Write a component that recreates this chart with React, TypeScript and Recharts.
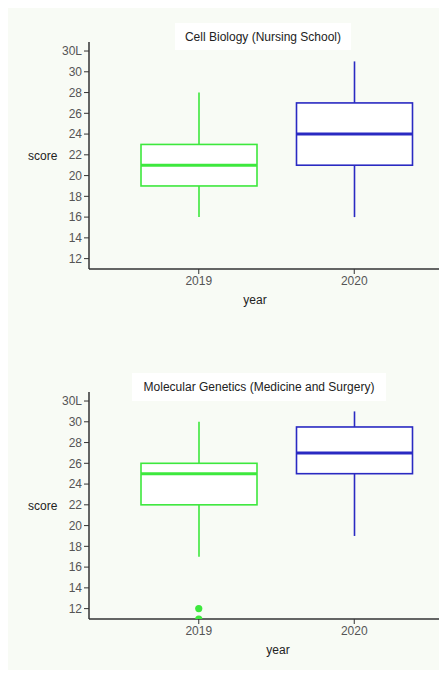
import React from 'react';
import { ComposedChart, Bar, Scatter, XAxis, YAxis } from 'recharts';

// ---- data ----
const years = ['2019', '2020'];
const boxColors = ['#3de83d', '#2a2ac2'];

const cellTitle = 'Cell Biology (Nursing School)';
const cellLow = [16, 16];
const cellQ1 = [19, 21];
const cellMedian = [21, 24];
const cellQ3 = [23, 27];
const cellHigh = [28, 31];
const cellOutlierA: (number | null)[] = [null, null];
const cellOutlierB: (number | null)[] = [null, null];

const molTitle = 'Molecular Genetics (Medicine and Surgery)';
const molLow = [17, 19];
const molQ1 = [22, 25];
const molMedian = [25, 27];
const molQ3 = [26, 29.5];
const molHigh = [30, 31];
const molOutlierA: (number | null)[] = [12, null];
const molOutlierB: (number | null)[] = [11, null];

const yTicks = [12, 14, 16, 18, 20, 22, 24, 26, 28, 30, 32];
const yTickLabels: Record<number, string> = { 32: '30L' };
const yLabel = 'score';
const xLabel = 'year';

const FONT = '"Liberation Sans", Arial, Helvetica, sans-serif';

function buildRows(low: number[], q1: number[], med: number[], q3: number[], high: number[], oa: (number | null)[], ob: (number | null)[]) {
  return years.map((year, i) => ({
    year,
    range: [low[i], high[i]],
    low: low[i],
    q1: q1[i],
    median: med[i],
    q3: q3[i],
    high: high[i],
    color: boxColors[i],
    outA: oa[i],
    outB: ob[i],
  }));
}

const cellRows = buildRows(cellLow, cellQ1, cellMedian, cellQ3, cellHigh, cellOutlierA, cellOutlierB);
const molRows = buildRows(molLow, molQ1, molMedian, molQ3, molHigh, molOutlierA, molOutlierB);

const BoxShape = (props: any) => {
  const { x, y, width, height, payload } = props;
  if (!payload || height == null) return <g />;
  const { low, high, q1, median, q3, color } = payload;
  const top = Math.min(y, y + height);
  const h = Math.abs(height);
  const k = h / (high - low);
  const py = (v: number) => top + (high - v) * k;
  const cx = x + width / 2;
  return (
    <g>
      <line x1={cx} x2={cx} y1={py(high)} y2={py(q3)} stroke={color} strokeWidth={1.6} />
      <line x1={cx} x2={cx} y1={py(q1)} y2={py(low)} stroke={color} strokeWidth={1.6} />
      <rect x={x} y={py(q3)} width={width} height={py(q1) - py(q3)} fill="#ffffff" stroke={color} strokeWidth={1.6} />
      <line x1={x} x2={x + width} y1={py(median)} y2={py(median)} stroke={color} strokeWidth={3} />
    </g>
  );
};

const makeDot = (key: string) => (props: any) => {
  const { cx, cy, payload } = props;
  if (!payload || payload[key] == null || cx == null || cy == null || isNaN(cx) || isNaN(cy)) return <g />;
  return <circle cx={cx} cy={cy} r={3.6} fill={payload.color} />;
};
const dotA = makeDot('outA');
const dotB = makeDot('outB');

const tickStyle = { fill: '#555', fontSize: 12, fontFamily: FONT };

function BoxChart({ rows, yearDx }: { rows: any[]; yearDx: number }) {
  return (
    <ComposedChart width={439} height={300} data={rows} margin={{ top: 34, right: 0, bottom: 4, left: 0 }}>
      <XAxis
        dataKey="year"
        type="category"
        padding={{ left: 32, right: 15 }}
        height={35}
        tickSize={5}
        tick={tickStyle}
        axisLine={{ stroke: '#333', strokeWidth: 1.5 }}
        tickLine={{ stroke: '#333' }}
        label={{ value: xLabel, position: 'insideBottom', offset: 0, dx: yearDx, fill: '#222', fontSize: 12, fontFamily: FONT }}
      />
      <YAxis
        type="number"
        domain={[11, 32.87]}
        allowDataOverflow
        ticks={yTicks}
        interval={0}
        tickFormatter={(v: number) => yTickLabels[v] ?? String(v)}
        width={81}
        tickSize={5}
        tick={tickStyle}
        axisLine={{ stroke: '#333', strokeWidth: 1.5 }}
        tickLine={{ stroke: '#333' }}
        label={{ value: yLabel, position: 'insideLeft', offset: 20, angle: 0, fill: '#222', fontSize: 12, fontFamily: FONT, textAnchor: 'start' }}
      />
      <Bar dataKey="range" barSize={116} shape={BoxShape} isAnimationActive={false} />
      <Scatter dataKey="outA" shape={dotA} isAnimationActive={false} />
      <Scatter dataKey="outB" shape={dotB} isAnimationActive={false} />
    </ComposedChart>
  );
}

const titleStyle: React.CSSProperties = {
  position: 'absolute',
  background: '#ffffff',
  color: '#222',
  fontFamily: FONT,
  fontSize: 12,
  textAlign: 'center',
  display: 'flex',
  alignItems: 'center',
  justifyContent: 'center',
  whiteSpace: 'nowrap',
};

export default function App() {
  return (
    <div style={{ position: 'relative', width: 447, height: 662, background: '#f8fbf5', fontFamily: FONT }}>
      <div style={{ position: 'absolute', left: 0, top: 0 }}>
        <BoxChart rows={cellRows} yearDx={-13} />
      </div>
      <div style={{ position: 'absolute', left: 0, top: 350 }}>
        <BoxChart rows={molRows} yearDx={10} />
      </div>
      <div style={{ ...titleStyle, left: 167, top: 15, width: 176, height: 27 }}>{cellTitle}</div>
      <div style={{ ...titleStyle, left: 124, top: 365, width: 254, height: 28 }}>{molTitle}</div>
    </div>
  );
}
